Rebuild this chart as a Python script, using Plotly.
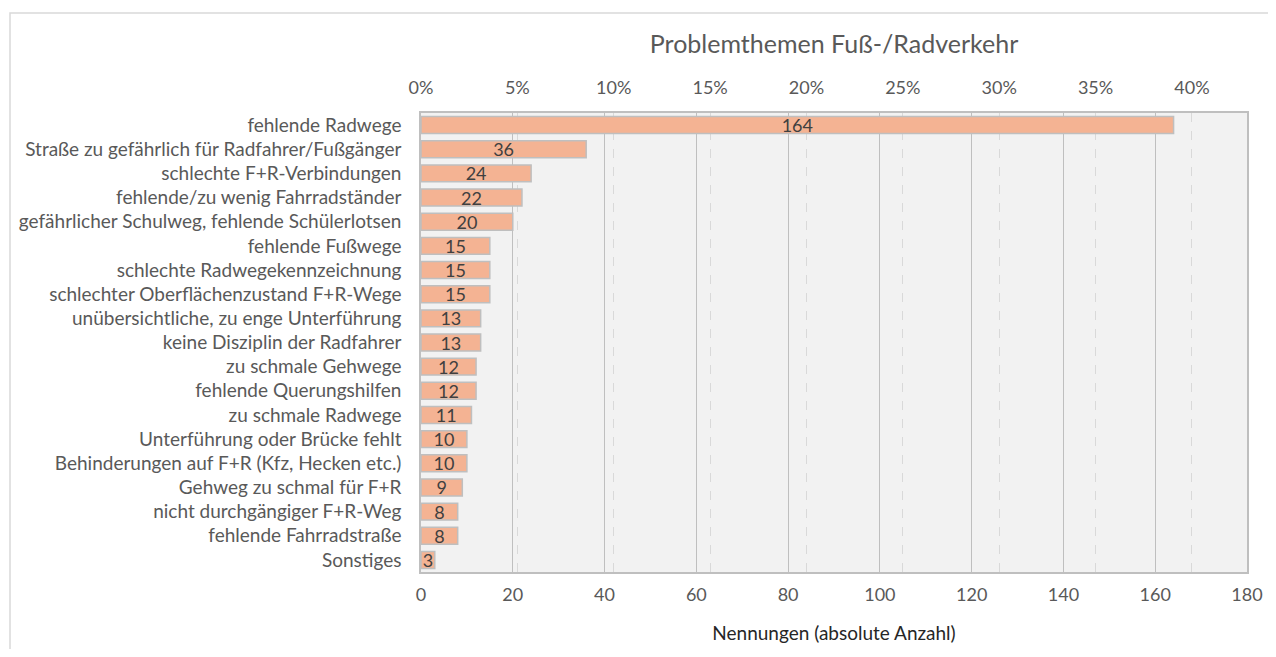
import plotly.graph_objects as go

categories = [
    "fehlende Radwege",
    "Straße zu gefährlich für Radfahrer/Fußgänger",
    "schlechte F+R-Verbindungen",
    "fehlende/zu wenig Fahrradständer",
    "gefährlicher Schulweg, fehlende Schülerlotsen",
    "fehlende Fußwege",
    "schlechte Radwegekennzeichnung",
    "schlechter Oberflächenzustand F+R-Wege",
    "unübersichtliche, zu enge Unterführung",
    "keine Disziplin der Radfahrer",
    "zu schmale Gehwege",
    "fehlende Querungshilfen",
    "zu schmale Radwege",
    "Unterführung oder Brücke fehlt",
    "Behinderungen auf F+R (Kfz, Hecken etc.)",
    "Gehweg zu schmal für F+R",
    "nicht durchgängiger F+R-Weg",
    "fehlende Fahrradstraße",
    "Sonstiges",
]
counts = [164, 36, 24, 22, 20, 15, 15, 15, 13, 13, 12, 12, 11, 10, 10, 9, 8, 8, 3]
count_ticks = [0, 20, 40, 60, 80, 100, 120, 140, 160, 180]
pct_ticks = [0.0, 0.05, 0.10, 0.15, 0.20, 0.25, 0.30, 0.35, 0.40]

total = sum(counts)
shares = [c / total for c in counts]

FONT = "Lato"
TXT = "#595959"

# page body has an 8px margin: figure occupies screen px 8..1268 x 8..649
W, H = 1260, 641
PL, PR, PT, PB = 421, 1247, 113, 572  # plot area in screen px
OFF = 8
pw, ph = PR - PL, PB - PT

fig = go.Figure()
fig.add_trace(go.Bar(
    x=counts, y=categories, orientation="h",
    marker=dict(color="#f4b393", line=dict(color="#bfbfbf", width=1.5)),
    width=0.7,
    text=[str(c) for c in counts],
    textposition="inside", insidetextanchor="middle", textangle=0,
    constraintext="none",
    textfont=dict(family=FONT, size=18, color="#404040"),
    hoverinfo="skip", showlegend=False,
))
fig.add_trace(go.Scatter(
    x=shares, y=categories, xaxis="x2", mode="markers",
    marker=dict(opacity=0), hoverinfo="skip", showlegend=False,
))

fig.update_layout(
    width=W, height=H,
    margin=dict(l=PL - OFF, r=W + OFF - PR, t=PT - OFF, b=H + OFF - PB,
                autoexpand=False),
    paper_bgcolor="white", plot_bgcolor="#f2f2f2",
    font=dict(family=FONT, size=18, color=TXT),
    title=dict(text="Problemthemen Fuß-/Radverkehr",
               x=((PL + PR) / 2 - OFF) / W, xanchor="center",
               y=1 - (44 - OFF) / H, yanchor="middle",
               font=dict(family=FONT, size=25, color=TXT)),
    xaxis=dict(range=[0, 180], tickvals=count_ticks, showgrid=True,
               gridcolor="#bfbfbf", gridwidth=1, showline=True, linecolor="#bfbfbf",
               linewidth=1.5, mirror=False, ticks="", zeroline=False,
               ticklabelstandoff=6, automargin=False,
               tickfont=dict(family=FONT, size=18, color=TXT),
               title=dict(text="Nennungen (absolute Anzahl)", standoff=22,
                          font=dict(family=FONT, size=19, color="#262626"))),
    xaxis2=dict(overlaying="x", side="top", range=[0, 180 / total],
                tickvals=pct_ticks, tickformat=".0%", showgrid=True,
                gridcolor="#d9d9d9", griddash="dash", gridwidth=1,
                showline=True, linecolor="#bfbfbf", linewidth=1.5,
                ticks="", zeroline=False, ticklabelstandoff=10, automargin=False,
                tickfont=dict(family=FONT, size=18, color=TXT)),
    yaxis=dict(range=[len(categories) - 0.5, -0.5], showline=True, mirror=True,
               linecolor="#bfbfbf", linewidth=1.5, ticks="", showgrid=False,
               ticklabelstandoff=14, automargin=False,
               tickfont=dict(family=FONT, size=19, color=TXT)),
    shapes=[dict(type="path", xref="paper", yref="paper",
                 path="M %f %f L %f %f L %f %f" % (
                     (10 - PL) / pw, -0.3,
                     (10 - PL) / pw, 1 + (PT - 13) / ph,
                     1.2, 1 + (PT - 13) / ph),
                 line=dict(color="#d9d9d9", width=1.5), layer="below")],
)

fig.write_html("out.html")
